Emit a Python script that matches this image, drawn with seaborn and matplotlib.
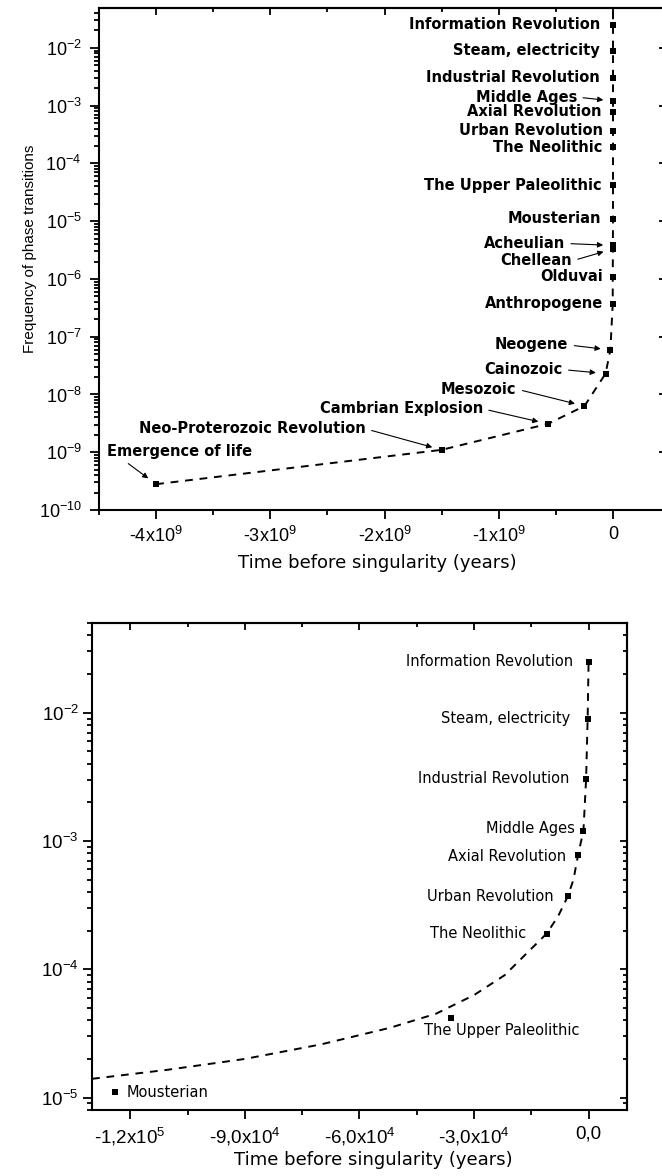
import numpy as np
import pandas as pd
import matplotlib
matplotlib.use("Agg")
import matplotlib.pyplot as plt
import matplotlib.ticker as mticker
import seaborn as sns

# ---------------------------------------------------------------- data
events = ["Information Revolution", "Steam, electricity", "Industrial Revolution",
          "Middle Ages", "Axial Revolution", "Urban Revolution", "The Neolithic",
          "The Upper Paleolithic", "Mousterian", "Acheulian", "Chellean", "Olduvai",
          "Anthropogene", "Neogene", "Cainozoic", "Mesozoic", "Cambrian Explosion",
          "Neo-Proterozoic Revolution", "Emergence of life"]
years = [-50, -300, -700, -1400, -2800, -5500, -11000, -36000, -124000,
         -1.0e6, -1.2e6, -2.0e6, -2.6e6, -2.3e7, -6.5e7, -2.5e8, -5.7e8, -1.5e9, -4.0e9]
frequency = [2.5e-2, 9.0e-3, 3.05e-3, 1.2e-3, 7.8e-4, 3.7e-4, 1.9e-4,
             4.2e-5, 1.1e-5, 3.8e-6, 3.3e-6, 1.1e-6, 3.7e-7, 5.9e-8, 2.3e-8,
             6.3e-9, 3.1e-9, 1.1e-9, 2.8e-10]

# events of the last ~130 thousand years (close-up panel)
recent = ["Information Revolution", "Steam, electricity", "Industrial Revolution",
          "Middle Ages", "Axial Revolution", "Urban Revolution", "The Neolithic",
          "The Upper Paleolithic", "Mousterian"]

# the long-range guide keeps rising past the top of the frame
guide_end_year = [0.0]
guide_end_freq = [6.0e-2]

# fitted hyperbolic trend of the close-up
trend_years = [-130000, -110000, -90000, -70000, -52000, -40000, -30000, -22000,
               -15000, -11000, -8000, -5500, -4000, -2800, -1400, -700, -300, -50]
trend_freq = [1.4e-5, 1.65e-5, 2.0e-5, 2.6e-5, 3.5e-5, 4.5e-5, 6.3e-5, 9.0e-5,
              1.45e-4, 1.9e-4, 2.6e-4, 3.7e-4, 5.0e-4, 7.8e-4, 1.2e-3, 3.05e-3,
              9.0e-3, 2.5e-2]

# axis ticks
top_xticks = [-4e9, -3e9, -2e9, -1e9, 0]
top_xticklabels = ["-4x10$^9$", "-3x10$^9$", "-2x10$^9$", "-1x10$^9$", "0"]
top_yticks = [1e-2, 1e-3, 1e-4, 1e-5, 1e-6, 1e-7, 1e-8, 1e-9, 1e-10]
top_yticklabels = ["10$^{-2}$", "10$^{-3}$", "10$^{-4}$", "10$^{-5}$", "10$^{-6}$",
                   "10$^{-7}$", "10$^{-8}$", "10$^{-9}$", "10$^{-10}$"]
low_xticks = [-1.2e5, -9.0e4, -6.0e4, -3.0e4, 0]
low_xticklabels = ["-1,2x10$^5$", "-9,0x10$^4$", "-6,0x10$^4$", "-3,0x10$^4$", "0,0"]
low_yticks = [1e-2, 1e-3, 1e-4, 1e-5]
low_yticklabels = ["10$^{-2}$", "10$^{-3}$", "10$^{-4}$", "10$^{-5}$"]

df = pd.DataFrame({"event": events, "years": years, "frequency": frequency})
guide = pd.concat([df.sort_values("years")[["years", "frequency"]],
                   pd.DataFrame({"years": guide_end_year, "frequency": guide_end_freq})],
                  ignore_index=True)
df_recent = df[df["event"].isin(recent)]
trend = pd.DataFrame({"years": trend_years, "frequency": trend_freq})

# ---------------------------------------------------------------- style
sns.set_theme(style="ticks")
plt.rcParams.update({
    "axes.edgecolor": "black",
    "axes.linewidth": 1.5,
    "xtick.color": "black",
    "ytick.color": "black",
    "text.color": "black",
    "axes.labelcolor": "black",
    "mathtext.fontset": "custom",
    "mathtext.rm": "Liberation Sans",
    "mathtext.default": "regular",
})
plt.rcParams["font.family"] = ["DejaVu Sans"]

TICK_FONT = "Liberation Sans"
DASH = (0, (4, 3.5))

fig = plt.figure(figsize=(6.62, 11.76), dpi=100)
ax1 = fig.add_axes([99 / 662, 1 - 510 / 1176, 567 / 662, 502 / 1176])
ax2 = fig.add_axes([92 / 662, 1 - 1110 / 1176, 535 / 662, 487 / 1176])


def frame(ax, xlim, ylim, xticks, xlabels, xminor, yticks, ylabels, size, ypad):
    ax.set_yscale("log")
    ax.set_xlim(*xlim)
    ax.set_ylim(*ylim)
    ax.xaxis.set_major_locator(mticker.FixedLocator(xticks))
    ax.xaxis.set_major_formatter(mticker.FixedFormatter(xlabels))
    ax.xaxis.set_minor_locator(mticker.MultipleLocator(xminor))
    ax.yaxis.set_major_locator(mticker.FixedLocator(yticks))
    ax.yaxis.set_major_formatter(mticker.FixedFormatter(ylabels))
    ax.yaxis.set_minor_locator(mticker.LogLocator(base=10, subs=np.arange(2, 10), numticks=100))
    ax.yaxis.set_minor_formatter(mticker.NullFormatter())
    ax.tick_params(which="both", direction="out", width=1.3)
    ax.tick_params(which="major", length=6.5)
    ax.tick_params(which="minor", length=3.6)
    ax.tick_params(axis="x", pad=5)
    ax.tick_params(axis="y", pad=ypad)
    for lab in ax.get_xticklabels() + ax.get_yticklabels():
        lab.set_fontfamily(TICK_FONT)
        lab.set_fontsize(size)

    top = ax.secondary_xaxis("top")
    top.xaxis.set_major_locator(mticker.FixedLocator(xticks))
    top.xaxis.set_minor_locator(mticker.MultipleLocator(xminor))
    top.tick_params(which="both", direction="in", width=1.3, labeltop=False)
    top.tick_params(which="major", length=5)
    top.tick_params(which="minor", length=3)
    top.spines["top"].set_linewidth(1.5)

    right = ax.secondary_yaxis("right")
    right.yaxis.set_major_locator(mticker.FixedLocator(yticks))
    right.yaxis.set_minor_locator(mticker.LogLocator(base=10, subs=np.arange(2, 10), numticks=100))
    right.yaxis.set_minor_formatter(mticker.NullFormatter())
    right.tick_params(which="both", direction="in", width=1.3, labelright=False)
    right.tick_params(which="major", length=5)
    right.tick_params(which="minor", length=3)
    right.spines["right"].set_linewidth(1.5)


# ---------------------------------------------------------------- whole history
sns.lineplot(data=guide, x="years", y="frequency", ax=ax1, sort=False,
             estimator=None, color="black", lw=1.4, linestyle=DASH)
sns.scatterplot(data=df, x="years", y="frequency", ax=ax1, marker="s", s=20,
                color="black", edgecolor="black", linewidth=0, zorder=3)

# label, dx, dy (pixels from the marker), ha, arrow, arrow start on text box
top_labels = [
    ("Information Revolution", -13, 0, "right", False, None),
    ("Steam, electricity", -13, 0, "right", False, None),
    ("Industrial Revolution", -13, 0, "right", False, None),
    ("Middle Ages", -36, 4, "right", True, (1, 0.5)),
    ("Axial Revolution", -12, 0, "right", False, None),
    ("Urban Revolution", -10, 0, "right", False, None),
    ("The Neolithic", -11, 0, "right", False, None),
    ("The Upper Paleolithic", -11, 0, "right", False, None),
    ("Mousterian", -12, 0, "right", False, None),
    ("Acheulian", -48, 2, "right", True, (1, 0.5)),
    ("Chellean", -41, -12, "right", True, (1, 0.5)),
    ("Olduvai", -10, 0, "right", False, None),
    ("Anthropogene", -10, 0, "right", False, None),
    ("Neogene", -42, 5, "right", True, (1, 0.5)),
    ("Cainozoic", -43, 4, "right", True, (1, 0.5)),
    ("Mesozoic", -68, 17, "right", True, (1, 0.5)),
    ("Cambrian Explosion", -65, 15, "right", True, (1, 0.5)),
    ("Neo-Proterozoic Revolution", -76, 21, "right", True, (1, 0.5)),
    ("Emergence of life", -49, 33, "left", True, (0.1, 0.0)),
]
lookup = df.set_index("event")
for name, dx, dy, ha, arrow, rel in top_labels:
    x, y = lookup.loc[name, "years"], lookup.loc[name, "frequency"]
    props = None
    if arrow:
        props = dict(arrowstyle="-|>", color="black", lw=0.8, mutation_scale=8,
                     shrinkA=2, shrinkB=7, relpos=rel)
    ax1.annotate(name, xy=(x, y), xytext=(dx, dy), textcoords="offset pixels",
                 ha=ha, va="center", fontsize=10.5, fontweight="bold",
                 family="DejaVu Sans", arrowprops=props, zorder=4)

frame(ax1, (-4.5e9, 0.464e9), (1e-10, 4.9e-2), top_xticks, top_xticklabels, 5e8,
      top_yticks, top_yticklabels, 13, 6)
ax1.set_xlabel("Time before singularity (years)", fontsize=13, family="DejaVu Sans")
ax1.set_ylabel("Frequency of phase transitions", fontsize=11, family="Liberation Sans")
ax1.xaxis.set_label_coords(0.49, -0.088)
ax1.yaxis.set_label_coords(-0.109, 0.52)

# ---------------------------------------------------------------- close-up
sns.lineplot(data=trend, x="years", y="frequency", ax=ax2, sort=False,
             estimator=None, color="black", lw=1.4, linestyle=DASH)
sns.scatterplot(data=df_recent, x="years", y="frequency", ax=ax2, marker="s", s=20,
                color="black", edgecolor="black", linewidth=0, zorder=3)

low_labels = [
    ("Information Revolution", -15, 0, "right"),
    ("Steam, electricity", -17, 0, "right"),
    ("Industrial Revolution", -17, 0, "right"),
    ("Middle Ages", -9, 2, "right"),
    ("Axial Revolution", -12, -2, "right"),
    ("Urban Revolution", -14, 0, "right"),
    ("The Neolithic", -20, 0, "right"),
    ("The Upper Paleolithic", -27, -13, "left"),
    ("Mousterian", 12, 0, "left"),
]
for name, dx, dy, ha in low_labels:
    x, y = lookup.loc[name, "years"], lookup.loc[name, "frequency"]
    ax2.annotate(name, xy=(x, y), xytext=(dx, dy), textcoords="offset pixels",
                 ha=ha, va="center", fontsize=10.5, family="DejaVu Sans", zorder=4)

frame(ax2, (-1.3e5, 1.0e4), (8e-6, 5.0e-2), low_xticks, low_xticklabels, 1.5e4,
      low_yticks, low_yticklabels, 13.5, 3)
ax2.set_xlabel("Time before singularity (years)", fontsize=13, family="DejaVu Sans")
ax2.set_ylabel("")
ax2.xaxis.set_label_coords(0.525, -0.084)

fig.savefig("out.png", dpi=100)
